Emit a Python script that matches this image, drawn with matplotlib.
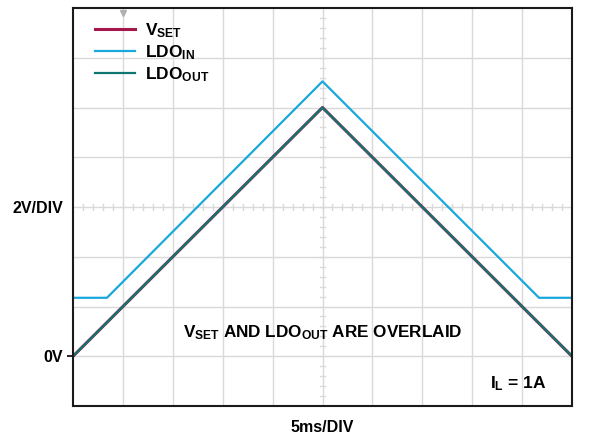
import numpy as np
import matplotlib.pyplot as plt

plt.rcParams['font.family'] = ['Liberation Sans', 'DejaVu Sans']
plt.rcParams['font.weight'] = 'bold'
plt.rcParams['axes.labelweight'] = 'bold'
plt.rcParams['mathtext.fontset'] = 'custom'
plt.rcParams['mathtext.rm'] = 'Liberation Sans:bold'
plt.rcParams['mathtext.it'] = 'Liberation Sans:bold'
plt.rcParams['mathtext.bf'] = 'Liberation Sans:bold'

# time in ms, voltage in V (5ms/div, 2V/div)
t_set = [0, 25, 50]
v_set = [0, 10, 0]
t_in = [0, 3.4, 25, 46.7, 50]
v_in = [2.35, 2.35, 11.05, 2.35, 2.35]
t_out = [0, 25, 50]
v_out = [0, 10, 0]

c_set = '#a3174b'
c_in = '#1aa7dc'
c_out = '#0f7772'
grid_c = '#d9d9d9'

fig = plt.figure(figsize=(5.89, 4.38), dpi=100)
ax = fig.add_axes([73/589, 1-406/438, 499/589, 398/438])
ax.set_xlim(0, 50)
ax.set_ylim(-2, 14)

# scope graticule
for x in np.arange(5, 50, 5):
    ax.axvline(x, color=grid_c, lw=1, zorder=0)
for y in np.arange(0, 14, 2):
    ax.axhline(y, color=grid_c, lw=1, zorder=0)
for x in np.arange(1, 50, 1):
    ax.plot([x, x], [5.88, 6.12], color=grid_c, lw=1, zorder=0)
for y in np.arange(-1.6, 14, 0.4):
    ax.plot([24.7, 25.3], [y, y], color=grid_c, lw=1, zorder=0)
ax.plot([5], [13.8], marker='v', ms=5, color='#b0b0b0', zorder=1)

ax.plot(t_set, v_set, color=c_set, lw=2.2, label='V$_{\\mathrm{SET}}$')
ax.plot(t_in, v_in, color=c_in, lw=1.6, label='LDO$_{\\mathrm{IN}}$')
ax.plot(t_out, v_out, color=c_out, lw=1.6, label='LDO$_{\\mathrm{OUT}}$')

ax.legend(loc='upper left', frameon=False, fontsize=12.5, handlelength=2.3,
          handletextpad=0.6, labelspacing=0.2, borderaxespad=0.0,
          bbox_to_anchor=(0.03, 0.985))

ax.text(25, 0.95, 'V$_{\\mathrm{SET}}$ AND LDO$_{\\mathrm{OUT}}$ ARE OVERLAID',
        ha='center', va='center', fontsize=12.3)
ax.text(44.6, -1.1, 'I$_{\\mathrm{L}}$ = 1A', ha='center', va='center',
        fontsize=12.5)

ax.set_xticks([])
ax.set_yticks([0, 6])
ax.set_yticklabels(['0V', '2V/DIV'], fontsize=11.5)
ax.tick_params(axis='y', length=4, width=1.2, pad=3)
ax.yaxis.get_major_ticks()[0].tick1line.set_color(c_out)
ax.yaxis.get_major_ticks()[1].tick1line.set_visible(False)
ax.set_xlabel('5ms/DIV', fontsize=11.5, labelpad=10)

for s in ax.spines.values():
    s.set_linewidth(1.5)
    s.set_color('#1a1a1a')

fig.savefig('out.png', dpi=100)
